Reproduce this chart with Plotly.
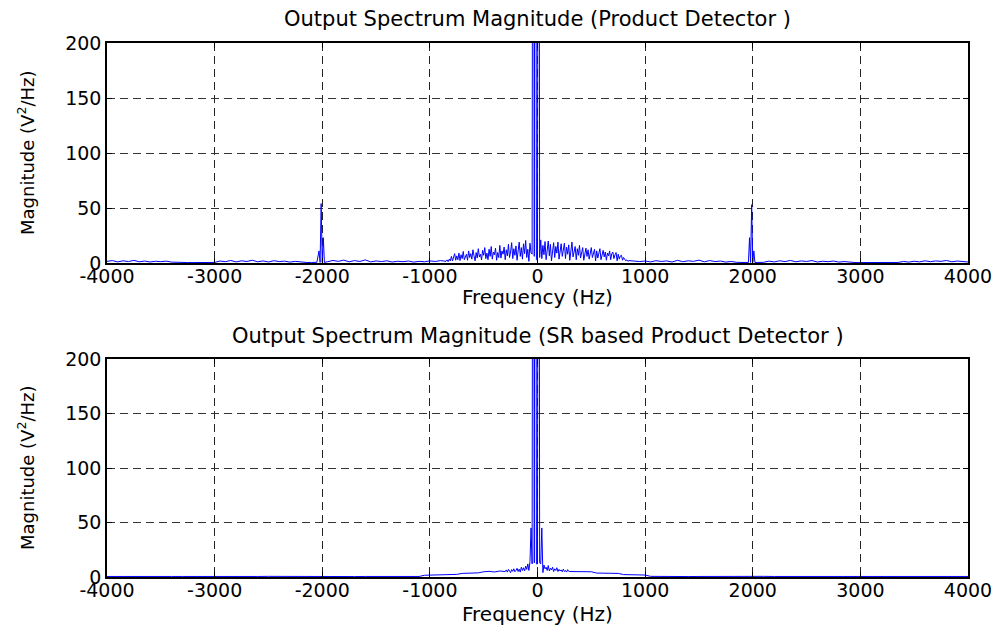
import numpy as np
import plotly.graph_objects as go

# ---------------- data ----------------
# Top panel: Product Detector
top_floor_left = [  # -4000 .. -900 Hz, step 50
    1.5, 2.2, 1.0, 2.0, 1.3, 2.4, 1.1, 1.8, 0.9, 1.6,
    1.2, 1.7, 0.8, 0.5, 0.4, 0.4, 0.4, 0.4, 0.4, 0.4,
    0.5, 1.8, 1.2, 2.3, 1.0, 2.0, 1.4, 2.5, 1.1, 1.9,
    0.9, 2.1, 1.3, 1.7, 0.8, 1.5, 0.7, 0.5, 0.5, 0.6,
    0.5, 1.2, 2.3, 1.5, 2.6, 1.1, 2.2, 1.4, 2.8, 1.0,
    1.9, 1.3, 2.0, 0.9, 1.6, 1.2, 1.8, 0.8, 1.5, 1.1,
    1.9, 1.4, 2.2]
top_center = [  # -850 .. 850 Hz, step 10
    1.5, 2.8, 1.2, 3.5, 2.0, 6.0, 1.8, 4.5, 8.5, 2.5,
    6.5, 3.0, 9.0, 2.2, 7.5, 4.0, 10.5, 3.0, 6.0, 8.0,
    2.5, 11.0, 5.0, 8.5, 3.5, 12.0, 6.5, 2.0, 9.5, 4.5,
    13.0, 5.5, 8.0, 2.8, 11.5, 7.0, 14.0, 4.0, 9.0, 3.0,
    12.5, 6.0, 15.0, 3.5, 10.0, 7.5, 13.5, 2.5, 9.5, 5.0,
    16.0, 4.5, 11.0, 8.0, 14.5, 3.0, 12.0, 6.5, 17.0, 5.0,
    10.0, 18.5, 4.0, 13.0, 7.0, 15.5, 2.5, 11.5, 19.0, 6.0,
    14.0, 3.5, 17.5, 8.5, 20.5, 5.0, 12.5, 1.5, 18.0, 9.0,
    8.0, 900.0, 6.0, 900.0, 3.0, 2.0, 900.0, 5.0, 21.0, 4.0,
    16.0, 7.5, 19.5, 3.0, 14.0, 20.0, 6.5, 17.0, 2.0, 12.5,
    18.5, 5.0, 15.0, 9.0, 19.0, 3.5, 13.5, 17.5, 6.0, 11.0,
    18.0, 4.0, 14.5, 8.0, 16.5, 2.5, 12.0, 19.0, 5.5, 10.5,
    15.0, 3.0, 13.0, 7.0, 16.0, 4.5, 11.0, 14.0, 2.5, 9.5,
    13.5, 6.0, 12.0, 3.5, 10.0, 14.0, 5.0, 8.5, 12.5, 2.0,
    11.0, 4.5, 9.5, 13.0, 3.0, 8.0, 11.5, 5.5, 10.0, 2.5,
    9.0, 6.5, 11.0, 3.0, 8.5, 10.0, 4.0, 7.5, 9.5, 2.0,
    8.0, 3.5, 6.5, 7.0, 2.5, 5.0, 3.0, 2.0, 2.8, 1.5, 2.2]
top_floor_right = [  # 900 .. 4000 Hz, step 50
    2.0, 1.3, 1.8, 1.0, 2.1, 1.4, 1.9, 0.9, 2.4, 1.2,
    2.0, 1.5, 2.6, 1.1, 2.2, 1.3, 1.8, 0.8, 1.4, 0.6,
    0.5, 0.7, 0.5, 0.5, 0.6, 1.7, 1.0, 2.0, 1.3, 2.3,
    1.1, 1.9, 1.4, 2.2, 0.9, 1.6, 1.2, 1.8, 0.8, 1.3,
    0.6, 0.4, 0.4, 0.4, 0.4, 0.4, 0.4, 0.4, 0.4, 0.5,
    1.4, 0.8, 1.6, 1.0, 2.0, 1.2, 1.9, 1.5, 2.3, 1.1,
    1.8, 1.3, 0.9]
top_spike_freq = [-2030, -2020, -2010, -1990, -1980, 1960, 1970, 1980, 1990, 2010, 2020]
top_spike_mag = [11.0, 0.5, 54.0, 23.0, 0.5, 0.5, 23.0, 0.5, 53.0, 11.0, 0.5]

# Bottom panel: SR based Product Detector
bot_floor_left = [  # -4000 .. -1100 Hz, step 100
    0.5, 0.6, 0.5, 0.4, 0.5, 0.6, 0.5, 0.5, 0.4, 0.5,
    0.6, 0.5, 0.5, 0.4, 0.5, 0.6, 0.5, 0.5, 0.4, 0.5,
    0.6, 0.5, 0.5, 0.4, 0.5, 0.6, 0.5, 0.5, 0.4, 0.5]
bot_mid_left = [  # -1050 .. -350 Hz, step 50
    1.6, 1.8, 1.9, 2.0, 2.1, 2.2, 2.4, 3.3, 3.5, 3.6,
    3.8, 4.8, 5.2, 4.6, 5.5]
bot_center = [  # -300 .. 300 Hz, step 10
    5.0, 6.5, 4.5, 7.0, 5.5, 4.0, 6.8, 5.2, 7.5, 4.8,
    6.0, 8.0, 5.0, 7.2, 4.5, 9.0, 6.0, 8.5, 5.5, 10.0,
    7.0, 12.0, 6.0, 14.0, 45.0, 12.0, 900.0, 13.0, 900.0, 12.0,
    12.0, 900.0, 13.0, 12.0, 45.0, 4.0, 11.0, 7.5, 9.0, 6.0,
    10.5, 5.5, 8.0, 6.5, 9.0, 5.0, 7.5, 6.0, 8.5, 5.0,
    7.0, 5.5, 6.5, 4.8, 7.2, 5.0, 6.0, 4.5, 6.8, 5.2,
    5.0]
bot_mid_right = [  # 350 .. 1050 Hz, step 50
    5.0, 5.2, 4.9, 4.8, 3.6, 3.5, 3.5, 3.4, 3.3, 2.2,
    2.1, 2.0, 1.9, 1.8, 0.6]
bot_floor_right = [  # 1100 .. 4000 Hz, step 100
    0.5, 0.6, 0.5, 0.4, 0.5, 0.6, 0.5, 0.5, 0.4, 0.5,
    0.6, 0.5, 0.5, 0.4, 0.5, 0.6, 0.5, 0.5, 0.4, 0.5,
    0.6, 0.5, 0.5, 0.4, 0.5, 0.6, 0.5, 0.5, 0.4, 0.5]

x_ticks = [-4000, -3000, -2000, -1000, 0, 1000, 2000, 3000, 4000]
y_ticks = [0, 50, 100, 150, 200]
titles = ["Output Spectrum Magnitude (Product Detector )",
          "Output Spectrum Magnitude (SR based Product Detector )"]
x_label = "Frequency (Hz)"
y_label = "Magnitude (V<sup>2</sup>/Hz)"


def grid(start, step, vals):
    return start + step * np.arange(len(vals))


def assemble(parts):
    f = np.concatenate([p[0] for p in parts])
    m = np.concatenate([np.asarray(p[1], float) for p in parts])
    o = np.argsort(f, kind="stable")
    return f[o], m[o]


top_f, top_m = assemble([
    (grid(-4000, 50, top_floor_left), top_floor_left),
    (grid(-850, 10, top_center), top_center),
    (grid(900, 50, top_floor_right), top_floor_right),
    (np.array(top_spike_freq, float), top_spike_mag),
])
bot_f, bot_m = assemble([
    (grid(-4000, 100, bot_floor_left), bot_floor_left),
    (grid(-1050, 50, bot_mid_left), bot_mid_left),
    (grid(-300, 10, bot_center), bot_center),
    (grid(350, 50, bot_mid_right), bot_mid_right),
    (grid(1100, 100, bot_floor_right), bot_floor_right),
])

# ---------------- figure ----------------
W, H = 998, 635
FONT = "DejaVu Sans"
fig = go.Figure()
fig.add_trace(go.Scatter(x=top_f, y=top_m, mode="lines",
                         line=dict(color="#0000FF", width=1), xaxis="x", yaxis="y",
                         showlegend=False, hoverinfo="skip"))
fig.add_trace(go.Scatter(x=bot_f, y=bot_m, mode="lines",
                         line=dict(color="#0000FF", width=1), xaxis="x2", yaxis="y2",
                         showlegend=False, hoverinfo="skip"))

x_dom = [107 / W, 968 / W]
top_dom = [1 - 263 / H, 1 - 43 / H]
bot_dom = [1 - 577 / H, 1 - 359 / H]

common_x = dict(range=[-4000, 4000], tickvals=x_ticks, ticktext=[str(v) for v in x_ticks],
                showgrid=True, gridcolor="#222", griddash="8px,5px", gridwidth=1,
                zeroline=False, showline=True, linecolor="black", linewidth=1.5,
                mirror="allticks", ticks="inside", ticklen=5, tickcolor="black",
                ticklabelstandoff=-5, automargin=False,
                tickfont=dict(family=FONT, size=19, color="black"), domain=x_dom)
common_y = dict(range=[0, 200], tickvals=y_ticks, ticktext=[str(v) for v in y_ticks],
                showgrid=True, gridcolor="#333", griddash="8px,5px", gridwidth=1,
                zeroline=False, showline=True, linecolor="black", linewidth=1.5,
                mirror="allticks", ticks="inside", ticklen=5, tickcolor="black",
                automargin=False,
                tickfont=dict(family=FONT, size=19, color="black"))

fig.update_layout(
    width=W, height=H, margin=dict(l=0, r=0, t=0, b=0, pad=0, autoexpand=False),
    paper_bgcolor="white", plot_bgcolor="white",
    xaxis=dict(common_x, anchor="y"),
    yaxis=dict(common_y, domain=top_dom, anchor="x"),
    xaxis2=dict(common_x, anchor="y2"),
    yaxis2=dict(common_y, domain=bot_dom, anchor="x2"),
)

ann = []
cx = (x_dom[0] + x_dom[1]) / 2
for i, (t_y, xl_y, yl_y) in enumerate([(19, 297, 153), (336, 614, 468)]):
    ann.append(dict(text=titles[i], x=cx, y=1 - t_y / H, xref="paper", yref="paper",
                    showarrow=False, xanchor="center", yanchor="middle",
                    font=dict(family=FONT, size=21, color="black")))
    ann.append(dict(text=x_label, x=cx, y=1 - xl_y / H, xref="paper", yref="paper",
                    showarrow=False, xanchor="center", yanchor="middle",
                    font=dict(family=FONT, size=20, color="black")))
    ann.append(dict(text=y_label, x=26 / W, y=1 - yl_y / H, xref="paper", yref="paper",
                    showarrow=False, xanchor="center", yanchor="middle", textangle=-90,
                    font=dict(family=FONT, size=18, color="black")))
fig.update_layout(annotations=ann)

fig.write_html("out.html")
